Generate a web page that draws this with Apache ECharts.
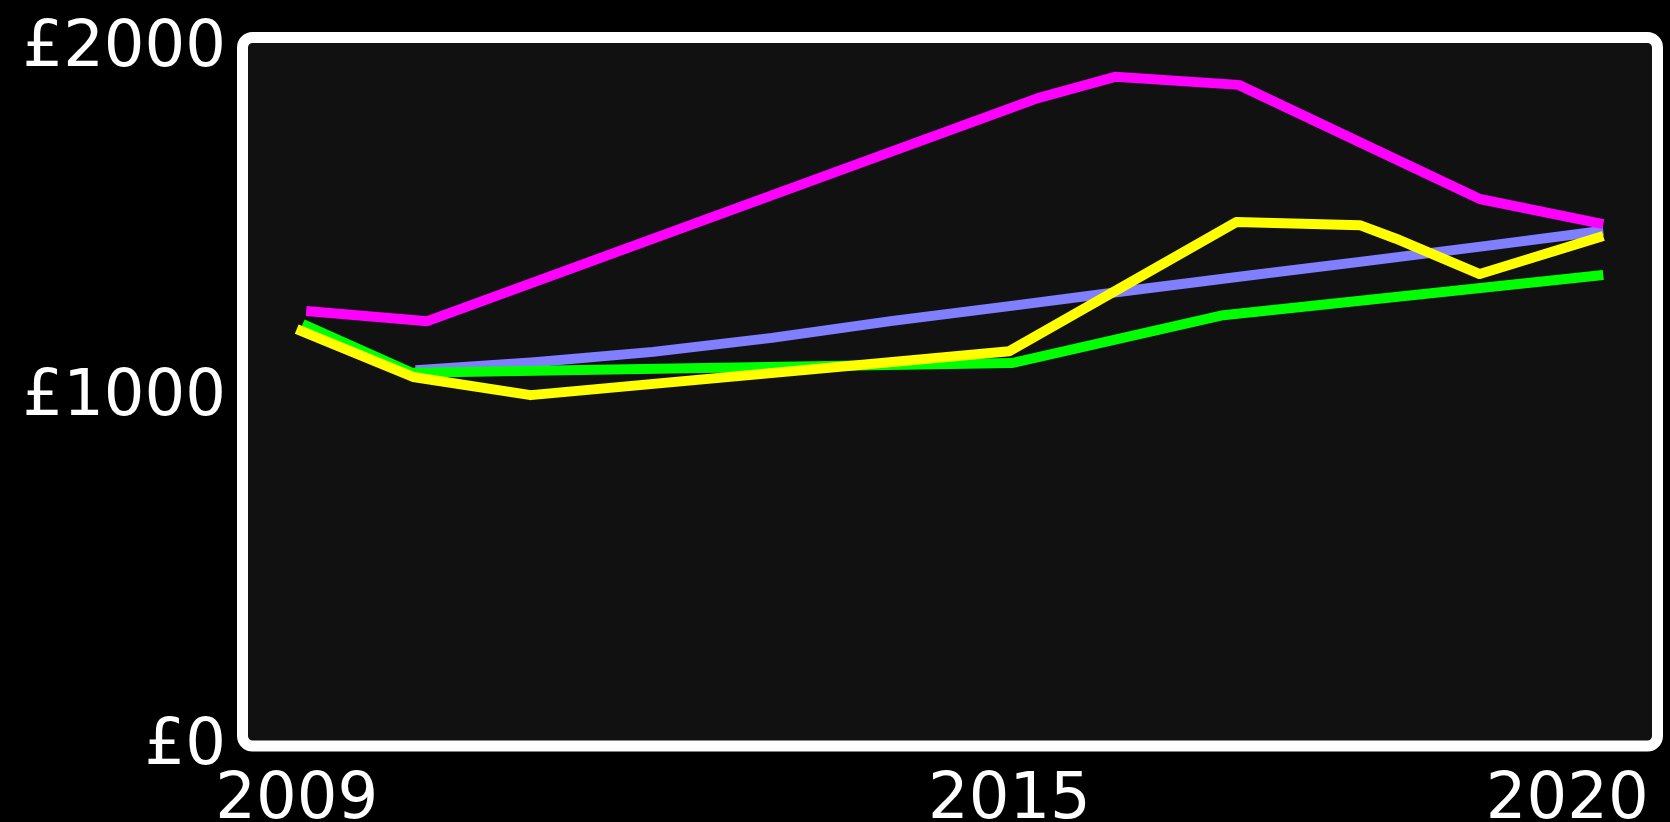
<!DOCTYPE html>
<html>
<head>
<meta charset="utf-8">
<script src="https://cdn.jsdelivr.net/npm/echarts@6/dist/echarts.min.js"></script>
<style>
html,body{margin:0;padding:0;background:#000;}
#chart{width:1670px;height:822px;}
</style>
</head>
<body>
<div id="chart"></div>
<script>
// Tick labels
const xTickYears = [2009, 2015, 2020];
const yTicks = [0, 1000, 2000];

// Series data (decimal year, £)
const magentaYears  = [2009.08, 2010.1, 2015.24, 2015.89, 2016.93, 2018.96, 2020.0];
const magentaValues = [1232, 1203, 1842, 1903, 1880, 1553, 1481];

const blueYears  = [2010, 2011, 2012, 2013, 2014, 2015, 2016, 2017, 2018, 2019, 2020];
const blueValues = [1062, 1085, 1115, 1155, 1203, 1246, 1290, 1333, 1375, 1418, 1462];

const greenYears  = [2009.05, 2009.97, 2015.02, 2016.8, 2020.0];
const greenValues = [1195, 1055, 1083, 1220, 1335];

const yellowYears  = [2009.0, 2009.98, 2010.97, 2015.0, 2016.91, 2017.95, 2018.25, 2018.96, 2020.0];
const yellowValues = [1180, 1043, 991, 1117, 1487, 1478, 1440, 1338, 1447];

function pairs(xs, ys) { return xs.map((x, i) => [x, ys[i]]); }

const FONT = 'DejaVu Sans';
const FS = 64;
const chart = echarts.init(document.getElementById('chart'), null, {renderer: 'canvas'});

function lineSeries(name, xs, ys, color, z) {
  return {
    name: name, type: 'line', data: pairs(xs, ys), symbol: 'none', z: z,
    lineStyle: {color: color, width: 10, cap: 'butt', join: 'round'},
    animation: false
  };
}

chart.setOption({
  backgroundColor: '#000',
  animation: false,
  grid: {left: 248, right: 18, top: 43, bottom: 81, show: true, backgroundColor: '#111', borderWidth: 0,
    containLabel: false, outerBoundsMode: 'none'},
  xAxis: {
    type: 'value', min: 2008.59, max: 2020.41,
    axisLine: {show: false}, axisTick: {show: false}, splitLine: {show: false},
    axisLabel: {
      customValues: xTickYears,
      color: '#fff', fontFamily: FONT, fontSize: FS, margin: 28,
      formatter: function (v) {
        return v === 2020 ? '{r|' + v + '}' : String(v);
      },
      rich: {r: {color: '#fff', fontFamily: FONT, fontSize: FS, padding: [0, 72, 0, 0]}}
    }
  },
  yAxis: {
    type: 'value', min: yTicks[0], max: yTicks[yTicks.length - 1], interval: 1000,
    axisLine: {show: false}, axisTick: {show: false}, splitLine: {show: false},
    axisLabel: {color: '#fff', fontFamily: FONT, fontSize: FS, margin: 22,
      formatter: function (v) { return '{a|£' + v + '}'; },
      rich: {a: {color: '#fff', fontFamily: FONT, fontSize: FS, padding: [12, 0, 0, 0]}}
    }
  },
  graphic: [{
    type: 'rect', z: 100, silent: true,
    shape: {x: 242.5, y: 37.5, width: 1415, height: 708.5, r: 10},
    style: {fill: 'none', stroke: '#fff', lineWidth: 11}
  }],
  series: [
    lineSeries('blue', blueYears, blueValues, '#7f7fff', 2),
    lineSeries('green', greenYears, greenValues, '#00ff00', 3),
    lineSeries('yellow', yellowYears, yellowValues, '#ffff00', 4),
    lineSeries('magenta', magentaYears, magentaValues, '#ff00ff', 5)
  ]
});
</script>
</body>
</html>
